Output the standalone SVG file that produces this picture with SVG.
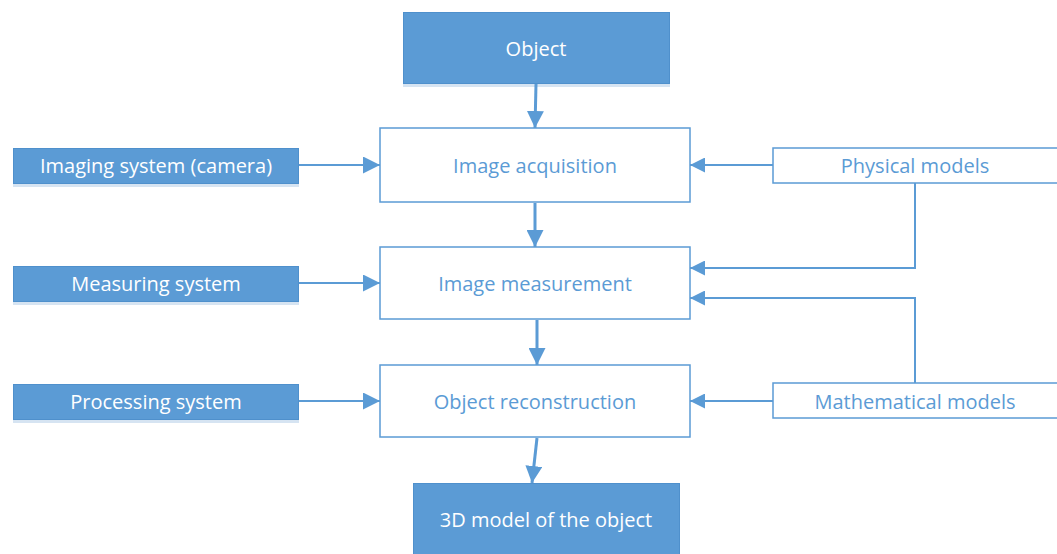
<svg xmlns="http://www.w3.org/2000/svg" width="1057" height="554" viewBox="0 0 1057 554">
  <defs>
    <style>
      .fill { fill: #5B9BD5; stroke: #4F90CC; stroke-width: 1; }
      .shadow { fill: #D6E4F2; }
      .outline { fill: #FFFFFF; stroke: #5B9BD5; stroke-width: 1.5; }
      .light { fill: #FFFFFF; font-family: "Open Sans", "Noto Sans", sans-serif; font-size: 20px; text-anchor: middle; dominant-baseline: central; }
      .dark { fill: #5B9BD5; font-family: "Open Sans", "Noto Sans", sans-serif; font-size: 20px; text-anchor: middle; dominant-baseline: central; }
      .link { fill: none; stroke: #5B9BD5; stroke-width: 2; }
      .flow { fill: none; stroke: #5B9BD5; stroke-width: 3; }
    </style>
    <marker id="head" viewBox="0 0 10 10" refX="10" refY="5" markerWidth="15" markerHeight="15" markerUnits="userSpaceOnUse" orient="auto">
      <path d="M0,0 L10,5 L0,10 Z" fill="#5B9BD5"/>
    </marker>
    <marker id="headBig" viewBox="0 0 10 10" refX="10" refY="5" markerWidth="17" markerHeight="17" markerUnits="userSpaceOnUse" orient="auto">
      <path d="M0,0 L10,5 L0,10 Z" fill="#5B9BD5"/>
    </marker>
  </defs>

  <g id="object">
    <rect class="shadow" x="403" y="83" width="267" height="4"/>
    <rect class="fill" x="403.5" y="12.5" width="266" height="71"/>
    <text class="light" x="536" y="48">Object</text>
  </g>

  <g id="image-acquisition">
    <rect class="outline" x="380" y="128" width="310" height="74"/>
    <text class="dark" x="535" y="165">Image acquisition</text>
  </g>

  <g id="image-measurement">
    <rect class="outline" x="380" y="247" width="310" height="72"/>
    <text class="dark" x="535" y="283">Image measurement</text>
  </g>

  <g id="object-reconstruction">
    <rect class="outline" x="380" y="365" width="310" height="72"/>
    <text class="dark" x="535" y="401">Object reconstruction</text>
  </g>

  <g id="model-3d">
    <rect class="fill" x="413.5" y="483.5" width="266" height="72"/>
    <text class="light" x="546" y="519">3D model of the object</text>
  </g>

  <g id="imaging-system">
    <rect class="shadow" x="13" y="183" width="286" height="4"/>
    <rect class="fill" x="13.5" y="148.5" width="285" height="35"/>
    <text class="light" x="156" y="165">Imaging system (camera)</text>
  </g>

  <g id="measuring-system">
    <rect class="shadow" x="13" y="301" width="286" height="4"/>
    <rect class="fill" x="13.5" y="266.5" width="285" height="35"/>
    <text class="light" x="156" y="283">Measuring system</text>
  </g>

  <g id="processing-system">
    <rect class="shadow" x="13" y="419" width="286" height="4"/>
    <rect class="fill" x="13.5" y="384.5" width="285" height="35"/>
    <text class="light" x="156" y="401">Processing system</text>
  </g>

  <g id="physical-models">
    <rect class="outline" x="773" y="148" width="286" height="35"/>
    <text class="dark" x="915" y="165">Physical models</text>
  </g>

  <g id="mathematical-models">
    <rect class="outline" x="773" y="383" width="286" height="35"/>
    <text class="dark" x="915" y="401">Mathematical models</text>
  </g>

  <g id="connectors">
    <path class="flow" d="M536,84 L535,128" marker-end="url(#headBig)"/>
    <path class="flow" d="M535,203 L535,247" marker-end="url(#headBig)"/>
    <path class="flow" d="M537,320 L537,365" marker-end="url(#headBig)"/>
    <path class="flow" d="M537,438 L532,483" marker-end="url(#headBig)"/>

    <path class="link" d="M299,165 L380,165" marker-end="url(#headBig)"/>
    <path class="link" d="M299,283 L380,283" marker-end="url(#headBig)"/>
    <path class="link" d="M299,401 L380,401" marker-end="url(#headBig)"/>

    <path class="link" d="M773,165 L690,165" marker-end="url(#head)"/>
    <path class="link" d="M915,183 L915,268 L690,268" marker-end="url(#head)"/>
    <path class="link" d="M915,383 L915,298 L690,298" marker-end="url(#head)"/>
    <path class="link" d="M773,401 L690,401" marker-end="url(#head)"/>
  </g>
</svg>
